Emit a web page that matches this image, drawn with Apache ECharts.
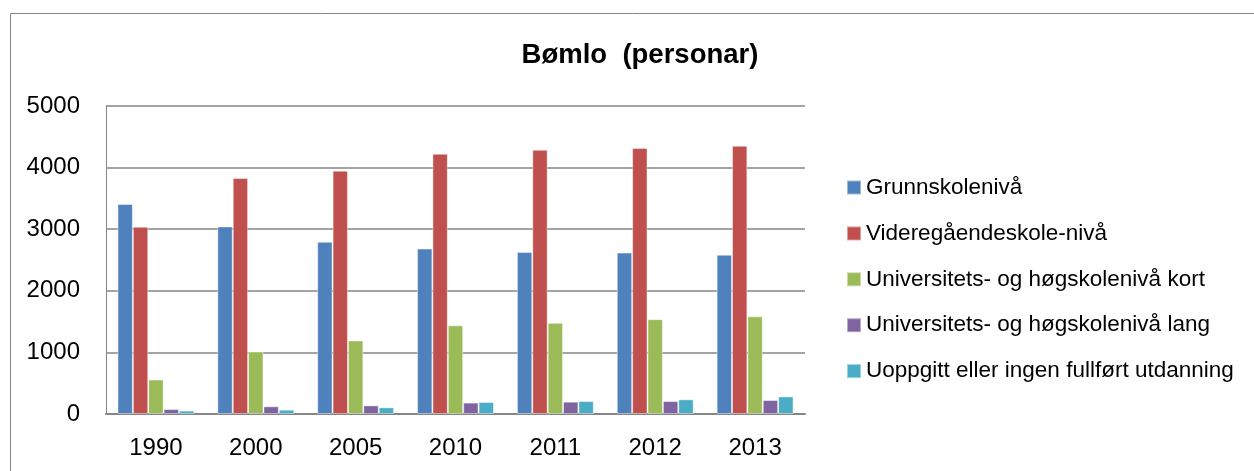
<!DOCTYPE html>
<html>
<head>
<meta charset="utf-8">
<script src="https://cdn.jsdelivr.net/npm/echarts@6/dist/echarts.min.js"></script>
<style>
  html, body { margin: 0; padding: 0; background: #fff; }
  #box { width: 1254px; height: 471px; }
</style>
</head>
<body>
<div id="box"></div>
<script>
// years on the x axis
var years = ["1990", "2000", "2005", "2010", "2011", "2012", "2013"];
var grunnskole = [3410, 3045, 2795, 2685, 2630, 2620, 2585];
var vgs = [3040, 3830, 3950, 4225, 4290, 4320, 4355];
var uniKort = [560, 1015, 1195, 1440, 1480, 1540, 1585];
var uniLang = [80, 125, 140, 185, 200, 210, 227];
var uoppgitt = [55, 70, 108, 195, 210, 238, 285];
var seriesNames = [
  "Grunnskolenivå",
  "Videregåendeskole-nivå",
  "Universitets- og høgskolenivå kort",
  "Universitets- og høgskolenivå lang",
  "Uoppgitt eller ingen fullført utdanning"
];
var colors = ["#4F81BD", "#C0504D", "#9BBB59", "#8064A2", "#4BACC6"];
var values = [grunnskole, vgs, uniKort, uniLang, uoppgitt];

var font = "Liberation Sans";
var myChart = echarts.init(document.getElementById("box"));

var series = values.map(function (v, i) {
  return {
    name: seriesNames[i],
    type: "bar",
    data: v,
    barGap: "0%",
    barCategoryGap: "23%",
    itemStyle: {
      color: colors[i],
      borderColor: "rgba(255,255,255,0.45)",
      borderWidth: 1
    }
  };
});

var option = {
  animation: false,
  color: colors,
  textStyle: { fontFamily: font },
  title: {
    text: "Bømlo  (personar)",
    left: 635,
    top: 50,
    textAlign: "center",
    textVerticalAlign: "middle",
    textStyle: { fontFamily: font, fontSize: 27.5, fontWeight: "bold", color: "#000" }
  },
  graphic: [
    {
      type: "rect",
      shape: { x: 10.5, y: 13.5, width: 1300, height: 500 },
      style: { fill: null, stroke: "#868686", lineWidth: 1 },
      silent: true
    }
  ],
  legend: {
    orient: "vertical",
    left: 841,
    top: 171,
    itemWidth: 14,
    itemHeight: 14,
    itemGap: 22.9,
    icon: "rect",
    data: seriesNames,
    textStyle: { fontFamily: font, fontSize: 22.5, color: "#000", lineHeight: 20 }
  },
  grid: {
    left: 106,
    top: 106,
    width: 699,
    bottom: 57,
    containLabel: false
  },
  xAxis: {
    type: "category",
    data: years,
    axisLine: { lineStyle: { color: "#868686", width: 2 } },
    axisTick: { show: false },
    axisLabel: { color: "#000", fontSize: 24, fontFamily: font, margin: 22 }
  },
  yAxis: {
    type: "value",
    min: 0,
    max: 5000,
    interval: 1000,
    axisLine: { show: true, lineStyle: { color: "#868686", width: 1 } },
    axisTick: { show: false },
    axisLabel: {
      color: "#000",
      fontSize: 24,
      fontFamily: font,
      margin: 26,
      formatter: function (v) { return String(v); }
    },
    splitLine: { lineStyle: { color: "#868686", width: 1.5 } }
  },
  series: series
};
myChart.setOption(option);
</script>
</body>
</html>
